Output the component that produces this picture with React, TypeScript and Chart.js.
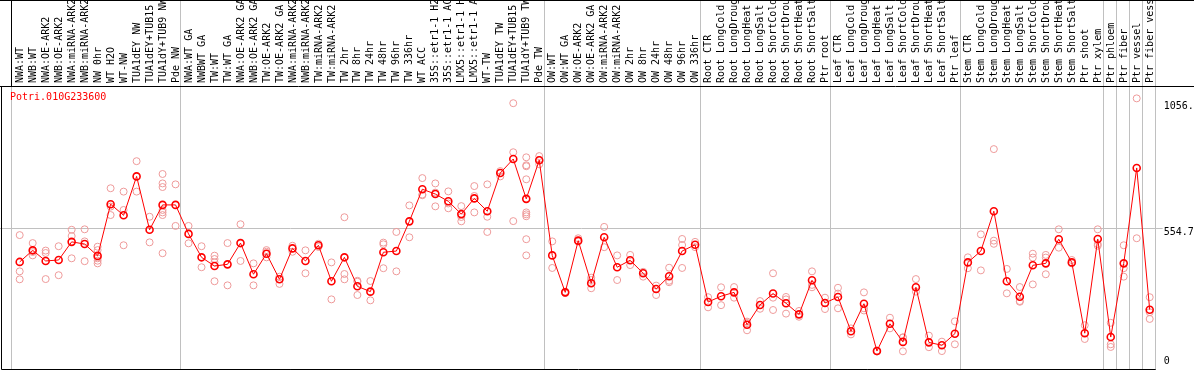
import React, { useEffect, useRef } from 'react';
import { Chart, registerables } from 'chart.js';

Chart.register(...registerables);

const labels: string[] = [
  'NWA:WT', 'NWB:WT', 'NWA:OE-ARK2', 'NWB:OE-ARK2', 'NWA:miRNA-ARK2', 'NWB:miRNA-ARK2', 'NW 0hr', 'WT H2O', 'WT-NW',
  'TUA1dEY NW', 'TUA1dEY+TUB15 NW', 'TUA1dY+TUB9 NW', 'Pde NW',
  'NWA:WT GA', 'NWBWT GA', 'TW:WT', 'TW:WT GA', 'NWA:OE-ARK2 GA', 'NWB:OE-ARK2 GA', 'TW:OE-ARK2', 'TW:OE-ARK2 GA',
  'NWA:miRNA-ARK2', 'NWB:miRNA-ARK2', 'TW:miRNA-ARK2', 'TW:miRNA-ARK2', 'TW 2hr', 'TW 8hr', 'TW 24hr', 'TW 48hr',
  'TW 96hr', 'TW 336hr', 'WT ACC', '35S::etr1-1 H2O', '35S::etr1-1 ACC', 'LMX5::etr1-1 H2O', 'LMX5::etr1-1 ACC',
  'WT-TW', 'TUA1dEY TW', 'TUA1dEY+TUB15 TW', 'TUA1dY+TUB9 TW', 'Pde TW',
  'OW:WT', 'OW:WT GA', 'OW:OE-ARK2', 'OW:OE-ARK2 GA', 'OW:miRNA-ARK2', 'OW:miRNA-ARK2', 'OW 2hr', 'OW 8hr',
  'OW 24hr', 'OW 48hr', 'OW 96hr', 'OW 336hr',
  'Root CTR', 'Root LongCold', 'Root LongDrought', 'Root LongHeat', 'Root LongSalt', 'Root ShortCold',
  'Root ShortDrought', 'Root ShortHeat', 'Root ShortSalt', 'Ptr root',
  'Leaf CTR', 'Leaf LongCold', 'Leaf LongDrought', 'Leaf LongHeat', 'Leaf LongSalt', 'Leaf ShortCold',
  'Leaf ShortDrought', 'Leaf ShortHeat', 'Leaf ShortSalt', 'Ptr leaf',
  'Stem CTR', 'Stem LongCold', 'Stem LongDrought', 'Stem LongHeat', 'Stem LongSalt', 'Stem ShortCold',
  'Stem ShortDrought', 'Stem ShortHeat', 'Stem ShortSalt', 'Ptr shoot',
  'Ptr xylem', 'Ptr phloem', 'Ptr fiber', 'Ptr vessel', 'Ptr fiber vessel',
];

const means: number[] = [
  413, 461, 417, 421, 496, 487, 438, 652, 606, 767, 546, 649, 649,
  529, 432, 396, 403, 491, 362, 447, 341, 469, 417, 482, 333, 432, 312, 290, 453, 458, 581, 714, 694, 664, 611, 676,
  623, 781, 839, 674, 834,
  440, 287, 501, 325, 515, 391, 420, 366, 301, 354, 458, 484,
  247, 271, 287, 153, 235, 282, 242, 196, 337, 243,
  268, 126, 240, 44, 157, 82, 308, 80, 68, 116,
  411, 458, 623, 333, 269, 399, 407, 507, 411, 118,
  508, 102, 407, 802, 215,
];

const replicates: number[][] = [
  [524, 374, 341], [491, 454, 440], [460, 450, 342], [478, 358], [546, 520, 428], [548, 498, 416],
  [476, 462, 428, 418, 407], [718, 642, 607], [704, 628, 482], [830, 704], [600, 494],
  [777, 738, 723, 628, 618, 607, 449], [734, 562],
  [562, 490], [478, 391], [439, 425, 411, 333], [491, 316], [569, 417], [407, 316], [462, 455, 432], [352, 322],
  [480, 455], [461, 366], [488, 475], [411, 258], [598, 363, 341], [335, 331, 276], [334, 254], [493, 486, 387],
  [537, 374], [647, 515], [760, 692, 689], [738, 700, 643], [705, 655, 635], [644, 599, 581], [727, 686, 618],
  [734, 600, 537], [789, 767], [1070, 867, 582], [846, 813, 809, 755, 618, 610, 602, 507, 440], [851, 835, 817],
  [498, 388], [290, 284], [511, 497], [348, 338, 304], [558, 474], [440, 338], [442, 400], [372, 352], [315, 276],
  [389, 335, 329], [508, 483, 388], [496, 474],
  [267, 225], [308, 234], [309, 265], [166, 130, 160], [251, 219], [366, 265, 214], [268, 258, 199], [210, 186],
  [374, 318, 308], [265, 218],
  [306, 282, 221], [138, 113], [287, 221, 212], [46, 42], [182, 138], [101, 100, 43], [342, 290], [108, 60],
  [83, 44], [167, 72],
  [432, 387], [527, 378], [880, 501, 488], [384, 283], [309, 251, 248], [447, 431, 320], [442, 431, 362],
  [548, 472], [421, 407], [151, 94],
  [548, 487, 480], [161, 72, 61], [482, 387, 352], [1090, 511], [267, 205, 177],
];

const yTicks: number[] = [0, 554.7, 1056.4];
const groupEnds: number[] = [12, 40, 52, 62, 72, 83, 84, 85, 86, 87];
const chartTitle = 'Potri.010G233600';

const FONT = 'DejaVu Sans Mono';

export default function App() {
  const ref = useRef<HTMLCanvasElement>(null);

  useEffect(() => {
    if (!ref.current) return;
    const maxReps = Math.max(...replicates.map((r) => r.length));
    const repSets = Array.from({ length: maxReps }, (_, k) => ({
      label: `rep${k + 1}`,
      data: replicates.map((r) => (r[k] === undefined ? null : r[k])),
      showLine: false,
      borderColor: '#ee9a9a',
      backgroundColor: 'rgba(0,0,0,0)',
      pointBorderColor: '#ee9a9a',
      pointBackgroundColor: 'rgba(0,0,0,0)',
      pointRadius: 3.5,
      pointBorderWidth: 1,
    }));

    const deco = {
      id: 'deco',
      beforeDatasetsDraw(chart: any) {
        const { ctx, chartArea, scales } = chart;
        const x = scales.x;
        const y = scales.y;
        const bottom = Math.round(chartArea.bottom) + 4.5;
        ctx.save();
        ctx.lineWidth = 1;
        ctx.strokeStyle = '#c0c0c0';
        const firstX = Math.round(x.getPixelForValue(0) - 9) + 0.5;
        ctx.beginPath();
        ctx.moveTo(firstX, chartArea.top);
        ctx.lineTo(firstX, bottom);
        ctx.stroke();
        groupEnds.forEach((g) => {
          const px = Math.round(x.getPixelForValue(g + 0.37)) + 0.5;
          ctx.beginPath();
          ctx.moveTo(px, 0);
          ctx.lineTo(px, bottom);
          ctx.stroke();
        });
        const py = Math.round(y.getPixelForValue(yTicks[1])) + 0.5;
        ctx.beginPath();
        ctx.moveTo(0, py);
        ctx.lineTo(chartArea.right + 13, py);
        ctx.stroke();
        ctx.restore();
      },
      afterDraw(chart: any) {
        const { ctx, chartArea, scales, width } = chart;
        const x = scales.x;
        ctx.save();
        ctx.lineWidth = 1;
        ctx.strokeStyle = '#000';
        const firstX = Math.round(x.getPixelForValue(0) - 9) + 0.5;
        const top = Math.round(chartArea.top) + 0.5;
        const bottom = Math.round(chartArea.bottom) + 4.5;
        ctx.beginPath();
        ctx.moveTo(0, 0.5);
        ctx.lineTo(width, 0.5);
        ctx.moveTo(0, top);
        ctx.lineTo(width, top);
        ctx.moveTo(firstX, 0);
        ctx.lineTo(firstX, top);
        ctx.moveTo(1.5, top);
        ctx.lineTo(1.5, bottom);
        ctx.lineTo(chartArea.right + 6, bottom);
        ctx.stroke();
        ctx.fillStyle = '#ff0000';
        ctx.font = `10px "${FONT}"`;
        ctx.textBaseline = 'alphabetic';
        ctx.textAlign = 'left';
        ctx.fillText(chartTitle, 10, 100);
        ctx.restore();
      },
    };

    const chart = new Chart(ref.current, {
      type: 'line',
      data: {
        labels,
        datasets: [
          {
            label: 'mean',
            data: means,
            borderColor: '#ff0000',
            borderWidth: 1,
            backgroundColor: 'rgba(0,0,0,0)',
            pointBorderColor: '#ff0000',
            pointBackgroundColor: 'rgba(0,0,0,0)',
            pointRadius: 3.5,
            pointBorderWidth: 1.6,
            tension: 0,
          },
          ...repSets,
        ],
      },
      options: {
        responsive: false,
        animation: false,
        events: [],
        layout: { autoPadding: false, padding: { left: 19.7, right: 0, top: 0, bottom: 5 } },
        plugins: {
          legend: { display: false },
          tooltip: { enabled: false },
        },
        scales: {
          x: {
            type: 'category',
            position: 'top',
            offset: false,
            grid: { display: false, drawTicks: false },
            border: { display: false },
            ticks: {
              autoSkip: false,
              minRotation: 90,
              maxRotation: 90,
              padding: 3,
              labelOffset: 12.5,
              color: '#000',
              font: { family: FONT, size: 10 },
            },
            afterFit: (s: any) => {
              s.height = 86;
            },
          },
          y: {
            type: 'linear',
            position: 'right',
            min: -13.66,
            max: 1141.2,
            grid: { display: false, drawTicks: true, tickLength: 14 },
            border: { display: false },
            afterBuildTicks: (s: any) => {
              s.ticks = yTicks.map((v) => ({ value: v }));
            },
            ticks: {
              padding: 0,
              color: '#000',
              font: { family: FONT, size: 10, lineHeight: 0.96 },
              callback: (v: any) => (v === yTicks[1] ? ['', String(v)] : String(v)),
            },
            afterFit: (s: any) => {
              s.width = 44.3;
            },
          },
        },
      },
      plugins: [deco],
    });
    return () => chart.destroy();
  }, []);

  return (
    <div style={{ position: 'absolute', left: 0, top: 0, width: 1194, height: 370 }}>
      <canvas ref={ref} width={1194} height={370} style={{ width: 1194, height: 370, display: 'block' }} />
    </div>
  );
}
